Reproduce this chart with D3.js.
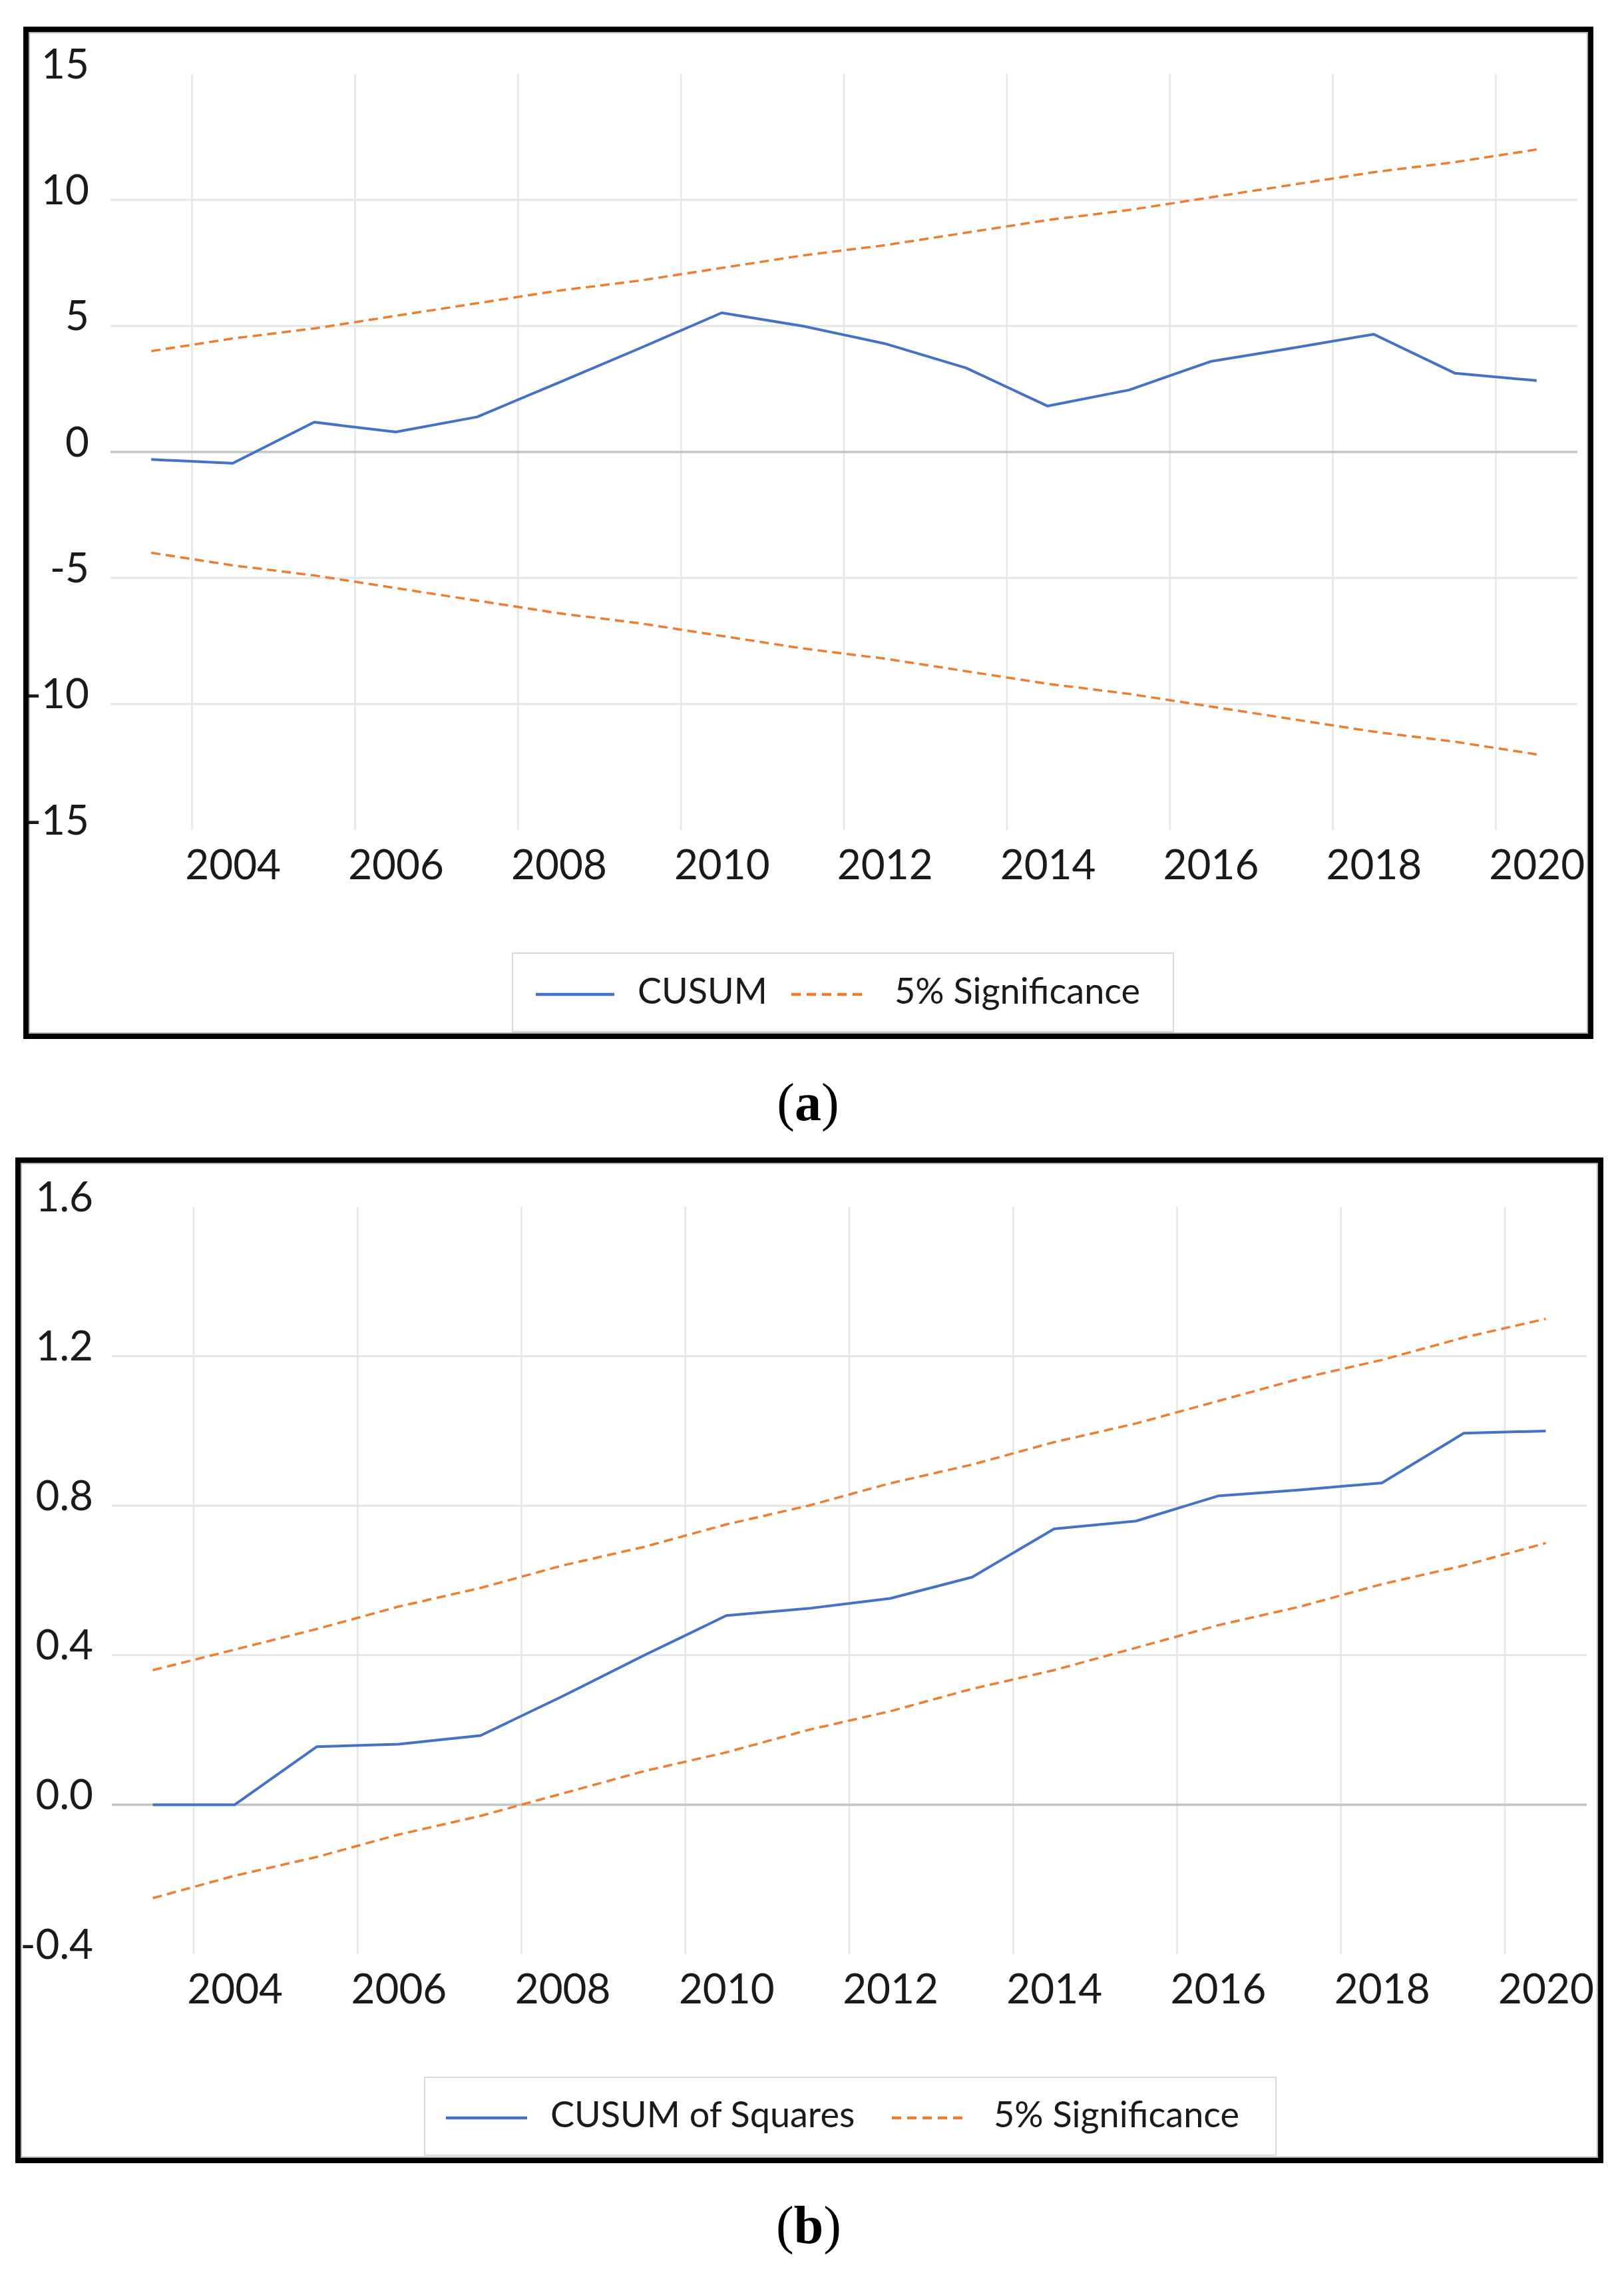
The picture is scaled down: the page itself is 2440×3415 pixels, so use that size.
<!DOCTYPE html>
<html>
<head>
<meta charset="utf-8">
<script src="https://cdn.jsdelivr.net/npm/d3@7/dist/d3.min.js"></script>
<style>
  html, body { margin: 0; padding: 0; background: #fff; }
  svg { display: block; }
  .tick text { font-family: Lato, "Open Sans", sans-serif; fill: #1a1a1a; }
</style>
</head>
<body>
<svg id="chart" width="2440" height="3415"></svg>
<script>
// ---------------- DATA ----------------
const years = [2003, 2004, 2005, 2006, 2007, 2008, 2009, 2010, 2011, 2012, 2013, 2014, 2015, 2016, 2017, 2018, 2019, 2020];
const xTickYears = [2004, 2006, 2008, 2010, 2012, 2014, 2016, 2018, 2020];

// (a) CUSUM
const cusum      = [-0.3, -0.45, 1.18, 0.79, 1.39, 2.75, 4.12, 5.52, 4.99, 4.30, 3.33, 1.82, 2.46, 3.59, 4.12, 4.67, 3.12, 2.83];
const cusumUpper = [4.0, 4.5, 4.9, 5.4, 5.9, 6.4, 6.8, 7.3, 7.8, 8.2, 8.7, 9.2, 9.6, 10.1, 10.6, 11.1, 11.5, 12.0];
const cusumLower = [-4.0, -4.5, -4.9, -5.4, -5.9, -6.4, -6.8, -7.3, -7.8, -8.2, -8.7, -9.2, -9.6, -10.1, -10.6, -11.1, -11.5, -12.0];
const yTicksA = [-15, -10, -5, 0, 5, 10, 15];

// (b) CUSUM of Squares
const cusumSq = [0.0, 0.0, 0.155, 0.162, 0.185, 0.29, 0.40, 0.506, 0.525, 0.552, 0.609, 0.738, 0.759, 0.826, 0.842, 0.861, 0.994, 1.0];
const sqUpper = [0.36, 0.415, 0.47, 0.53, 0.58, 0.64, 0.69, 0.75, 0.80, 0.86, 0.91, 0.97, 1.02, 1.08, 1.14, 1.19, 1.25, 1.30];
const sqLower = [-0.25, -0.19, -0.14, -0.08, -0.03, 0.03, 0.09, 0.14, 0.20, 0.25, 0.31, 0.36, 0.42, 0.48, 0.53, 0.59, 0.64, 0.70];
const yTicksB = [-0.4, 0.0, 0.4, 0.8, 1.2, 1.6];

const legendA = ["CUSUM", "5% Significance"];
const legendB = ["CUSUM of Squares", "5% Significance"];
const captions = ["a", "b"];

// ---------------- DRAW ----------------
const svg = d3.select("#chart");
svg.append("rect").attr("width", 2440).attr("height", 3415).attr("fill", "#fff");

const BLUE = "#4472C4", ORANGE = "#ED7D31";

function panel(cfg) {
  const g = svg.append("g");
  const x = d3.scaleLinear().domain([2002.5, 2020.5]).range(cfg.xRange);
  const y = d3.scaleLinear().domain(cfg.yDomain).range(cfg.yRange);
  const [x0, x1] = cfg.xRange;
  const [yb, yt] = cfg.yRange;

  // frame
  const f = cfg.frame;
  g.append("rect").attr("x", f.x + 4).attr("y", f.y + 4)
    .attr("width", f.w - 8).attr("height", f.h - 8)
    .attr("fill", "none").attr("stroke", "#000").attr("stroke-width", 8);
  g.append("rect").attr("x", f.x + 9).attr("y", f.y + 9)
    .attr("width", f.w - 18).attr("height", f.h - 18)
    .attr("fill", "none").attr("stroke", "#9a9a9a").attr("stroke-width", 1.5);

  // vertical gridlines (between categories)
  g.selectAll(".vg").data(xTickYears).enter().append("line")
    .attr("x1", d => x(d - 0.5)).attr("x2", d => x(d - 0.5))
    .attr("y1", yt).attr("y2", yb)
    .attr("stroke", "#e6e6e6").attr("stroke-width", 2.5);

  // horizontal gridlines
  g.selectAll(".hg").data(cfg.yTicks.filter(v => v !== 0 && v !== cfg.yDomain[0] && v !== cfg.yDomain[1]))
    .enter().append("line")
    .attr("x1", x0).attr("x2", x1)
    .attr("y1", d => y(d)).attr("y2", d => y(d))
    .attr("stroke", "#e6e6e6").attr("stroke-width", 3);
  // zero line
  g.append("line").attr("x1", x0).attr("x2", x1)
    .attr("y1", y(0)).attr("y2", y(0))
    .attr("stroke", "#c4c4c4").attr("stroke-width", 3.5);

  // y axis labels
  const ya = g.append("g").attr("transform", `translate(${cfg.yLabelX},0)`)
    .call(d3.axisLeft(y).tickValues(cfg.yTicks).tickSize(0).tickPadding(0).tickFormat(cfg.yFormat));
  ya.select(".domain").remove();
  ya.selectAll("text").attr("dy", null).attr("y", 6).attr("x", 0)
    .style("font-size", "62px").attr("text-anchor", "end");

  // x axis labels
  const xa = g.append("g").attr("transform", `translate(0,${yb})`)
    .call(d3.axisBottom(x).tickValues(xTickYears).tickSize(0).tickPadding(0).tickFormat(d3.format("d")));
  xa.select(".domain").remove();
  xa.selectAll("text").attr("dy", null).attr("y", 74).style("font-size", "62px");

  // lines
  const line = d3.line().x((d, i) => x(years[i])).y(d => y(d));
  [cfg.upper, cfg.lower].forEach(s => {
    g.append("path").datum(s).attr("d", line)
      .attr("fill", "none").attr("stroke", ORANGE).attr("stroke-width", 3.5)
      .attr("stroke-dasharray", "14,8");
  });
  g.append("path").datum(cfg.main).attr("d", line)
    .attr("fill", "none").attr("stroke", BLUE).attr("stroke-width", 4)
    .attr("stroke-linejoin", "round");

  // legend
  const L = cfg.legend;
  g.append("rect").attr("x", L.x).attr("y", L.y).attr("width", L.w).attr("height", L.h)
    .attr("fill", "#fff").attr("stroke", "#d9d9d9").attr("stroke-width", 2);
  g.append("line").attr("x1", L.l1[0]).attr("x2", L.l1[1]).attr("y1", L.ly).attr("y2", L.ly)
    .attr("stroke", BLUE).attr("stroke-width", 4.5);
  g.append("line").attr("x1", L.l2[0]).attr("x2", L.l2[1]).attr("y1", L.ly).attr("y2", L.ly)
    .attr("stroke", ORANGE).attr("stroke-width", 4.5).attr("stroke-dasharray", "14,9");
  [0, 1].forEach(i => {
    g.append("text").attr("x", L.tx[i]).attr("y", L.ty)
      .attr("font-family", "Lato, 'Open Sans', sans-serif").attr("font-size", 54)
      .attr("fill", "#1a1a1a").text(cfg.legendLabels[i]);
  });

  // caption
  const c = g.append("text").attr("x", cfg.cap.x).attr("y", cfg.cap.y)
    .attr("text-anchor", "middle").attr("font-family", "'Liberation Serif', 'DejaVu Serif', serif")
    .attr("font-size", 80).attr("fill", "#000");
  c.append("tspan").text("(");
  c.append("tspan").attr("font-weight", "bold").text(cfg.caption);
  c.append("tspan").text(")");
}

panel({
  frame: { x: 35, y: 40, w: 2359, h: 1521 },
  xRange: [166, 2370],
  yDomain: [-15, 15], yRange: [1247, 111],
  yTicks: yTicksA, yFormat: d => String(d), yLabelX: 134,
  main: cusum, upper: cusumUpper, lower: cusumLower,
  legendLabels: legendA,
  legend: { x: 770, y: 1432, w: 993, h: 118, l1: [805, 923], l2: [1189, 1297], ly: 1494, tx: [958, 1344], ty: 1508 },
  caption: captions[0], cap: { x: 1214, y: 1683 }
});

panel({
  frame: { x: 23, y: 1739, w: 2386, h: 1511 },
  xRange: [168, 2384],
  yDomain: [-0.4, 1.6], yRange: [2936, 1813],
  yTicks: yTicksB, yFormat: d => d.toFixed(1), yLabelX: 140,
  main: cusumSq, upper: sqUpper, lower: sqLower,
  legendLabels: legendB,
  legend: { x: 638, y: 3121, w: 1279, h: 117, l1: [670, 792], l2: [1340, 1450], ly: 3182, tx: [827, 1493], ty: 3196 },
  caption: captions[1], cap: { x: 1215, y: 3370 }
});
</script>
</body>
</html>
